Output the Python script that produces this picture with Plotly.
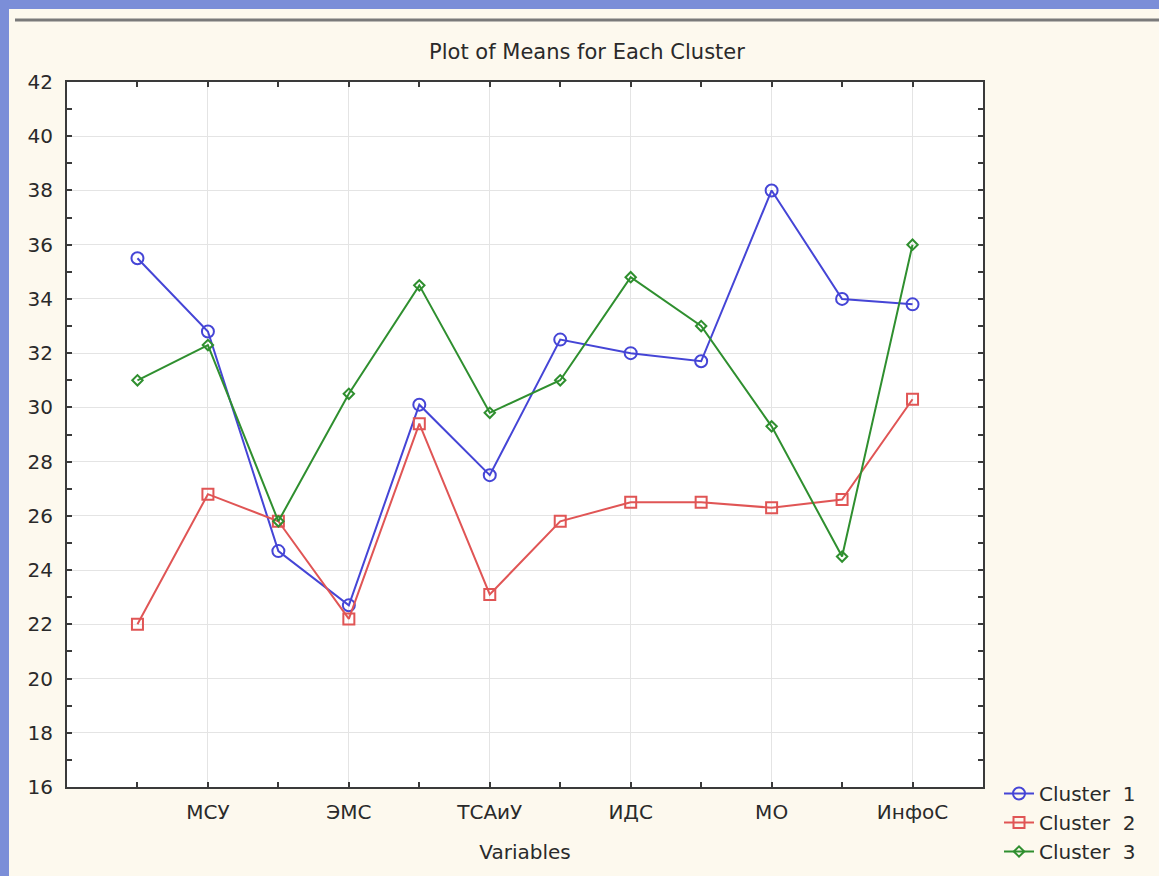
import plotly.graph_objects as go

# ---- data ----
positions = list(range(1, 13))
tick_positions = [2, 4, 6, 8, 10, 12]
tick_labels = ["МСУ", "ЭМС", "ТСАиУ", "ИДС", "МО", "ИнфоС"]
cluster1 = [35.5, 32.8, 24.7, 22.7, 30.1, 27.5, 32.5, 32.0, 31.7, 38.0, 34.0, 33.8]
cluster2 = [22.0, 26.8, 25.8, 22.2, 29.4, 23.1, 25.8, 26.5, 26.5, 26.3, 26.6, 30.3]
cluster3 = [31.0, 32.3, 25.8, 30.5, 34.5, 29.8, 31.0, 34.8, 33.0, 29.3, 24.5, 36.0]
series_names = ["Cluster\u00a0\u00a01", "Cluster\u00a0\u00a02", "Cluster\u00a0\u00a03"]

W, H = 1159, 876
L, R, T, B = 67, 983, 82, 787
FONT = "DejaVu Sans, Liberation Sans, Arial, sans-serif"
TXT = "#2a2a2a"
FS = 20

def px(x):
    return (x - L) / (R - L)

def py(y):
    return (B - y) / (B - T)

fig = go.Figure()
styles = [
    (cluster1, "#4545d6", "circle-open", 12),
    (cluster2, "#e05555", "square-open", 11),
    (cluster3, "#2f8f2f", "diamond-open", 8),
]
for (vals, col, sym, sz), name in zip(styles, series_names):
    fig.add_trace(go.Scatter(
        x=positions, y=vals, mode="lines+markers", name=name,
        line=dict(color=col, width=2),
        marker=dict(symbol=sym, size=sz, color=col, line=dict(color=col, width=2)),
    ))

shapes = [
    dict(type="rect", xref="paper", yref="paper", x0=px(0), x1=px(9), y0=py(H), y1=py(0),
         fillcolor="#7b8ed8", line=dict(width=0), layer="below"),
    dict(type="rect", xref="paper", yref="paper", x0=px(0), x1=px(W), y0=py(9), y1=py(0),
         fillcolor="#7b8ed8", line=dict(width=0), layer="below"),
    dict(type="line", xref="paper", yref="paper", x0=px(15), x1=px(W), y0=py(20), y1=py(20),
         line=dict(color="#7a7a7a", width=3)),
]

axis_common = dict(
    showline=True, linecolor="#3a3a3a", linewidth=2, mirror="ticks",
    ticks="inside", ticklen=5, tickcolor="#3a3a3a", tickwidth=1.5,
    gridcolor="#e4e4e4", gridwidth=1, zeroline=False,
    tickfont=dict(family=FONT, size=FS, color=TXT),
)

fig.update_layout(
    width=W, height=H, autosize=False,
    margin=dict(l=L, r=W - R, t=T, b=H - B, pad=0, autoexpand=False),
    paper_bgcolor="#fdf9ee", plot_bgcolor="#ffffff",
    shapes=shapes,
    title=dict(text="Plot of Means for Each Cluster", x=587 / W, xanchor="center",
               y=1 - 52 / H, yanchor="middle",
               font=dict(family=FONT, size=21, color=TXT)),
    xaxis=dict(range=[0, 13], tickvals=tick_positions, ticktext=tick_labels,
               showgrid=True, ticklabelstandoff=6,
               minor=dict(tickvals=[1, 3, 5, 7, 9, 11], ticks="inside", ticklen=5,
                          tickcolor="#3a3a3a", showgrid=False),
               title=dict(text="Variables", font=dict(family=FONT, size=FS, color=TXT), standoff=22),
               **axis_common),
    yaxis=dict(range=[16, 42], tickvals=list(range(16, 43, 2)), showgrid=True,
               ticklabelstandoff=8,
               minor=dict(tickvals=list(range(17, 42, 2)), ticks="inside", ticklen=5,
                          tickcolor="#3a3a3a", showgrid=False),
               **axis_common),
    legend=dict(x=px(999), y=py(774), xanchor="left", yanchor="top",
                bgcolor="rgba(0,0,0,0)", font=dict(family=FONT, size=FS, color=TXT),
                tracegroupgap=0, itemwidth=30),
    showlegend=True,
)

fig.write_html(
    "out.html",
    config={"responsive": False, "displayModeBar": False},
    post_script="document.body.style.margin='0';document.body.style.overflow='hidden';",
)
